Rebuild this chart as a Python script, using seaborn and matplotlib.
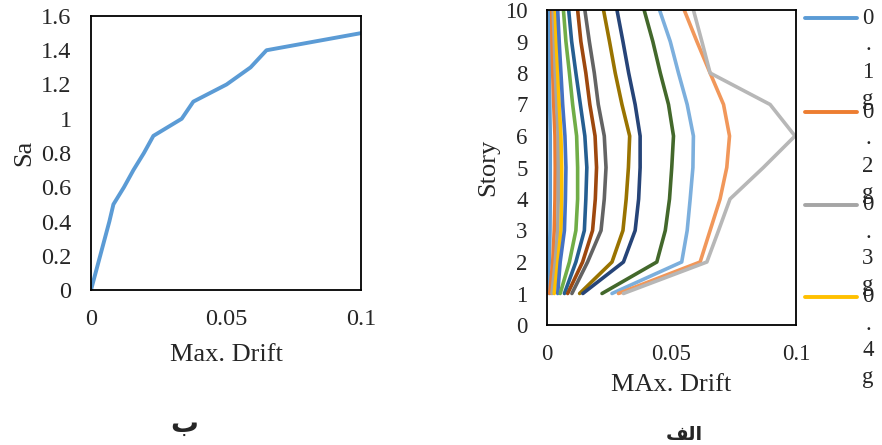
import numpy as np
import pandas as pd
import seaborn as sns
import matplotlib.pyplot as plt
from matplotlib.lines import Line2D

# left panel: Sa vs max drift
sa = [0, 0.1, 0.2, 0.3, 0.4, 0.5, 0.6, 0.7, 0.8, 0.9, 1.0, 1.1, 1.2, 1.3, 1.4, 1.5]
max_drift = [0, 0.0017, 0.0034, 0.0051, 0.0068, 0.0083, 0.0122, 0.0157, 0.0196,
             0.0231, 0.0336, 0.0379, 0.0502, 0.0591, 0.065, 0.1]

# right panel: drift profile per story, one series per intensity
stories = [1, 2, 3, 4, 5, 6, 7, 8, 9, 10]
levels = ['0.1g', '0.2g', '0.3g', '0.4g', '0.5g', '0.6g', '0.7g', '0.8g',
          '0.9g', '1.0g', '1.1g', '1.2g', '1.3g', '1.4g', '1.5g']
d01 = [0.0003, 0.0009, 0.0012, 0.0013, 0.0013, 0.0013, 0.0011, 0.0009, 0.0008, 0.0007]
d02 = [0.0011, 0.0023, 0.0029, 0.0032, 0.0033, 0.0032, 0.0027, 0.0023, 0.0020, 0.0019]
d03 = [0.0020, 0.0033, 0.0043, 0.0045, 0.0045, 0.0045, 0.0039, 0.0033, 0.0029, 0.0025]
d04 = [0.0029, 0.0043, 0.0056, 0.0059, 0.0059, 0.0056, 0.0049, 0.0043, 0.0037, 0.0033]
d05 = [0.0043, 0.0053, 0.0070, 0.0074, 0.0076, 0.0072, 0.0063, 0.0056, 0.0049, 0.0043]
d06 = [0.0053, 0.0090, 0.0116, 0.0123, 0.0123, 0.0119, 0.0103, 0.0090, 0.0076, 0.0066]
d07 = [0.0070, 0.0116, 0.0150, 0.0156, 0.0160, 0.0152, 0.0134, 0.0116, 0.0099, 0.0087]
d08 = [0.0083, 0.0143, 0.0183, 0.0194, 0.0199, 0.0193, 0.0172, 0.0156, 0.0136, 0.0123]
d09 = [0.0100, 0.0163, 0.0217, 0.0230, 0.0237, 0.0230, 0.0206, 0.0190, 0.0170, 0.0152]
d10 = [0.0131, 0.0261, 0.0305, 0.0318, 0.0327, 0.0332, 0.0301, 0.0274, 0.0251, 0.0227]
d11 = [0.0144, 0.0307, 0.0354, 0.0368, 0.0374, 0.0374, 0.0354, 0.0328, 0.0305, 0.0281]
d12 = [0.0221, 0.0441, 0.0475, 0.0492, 0.0501, 0.0508, 0.0488, 0.0455, 0.0425, 0.0390]
d13 = [0.0261, 0.0541, 0.0563, 0.0575, 0.0586, 0.0588, 0.0563, 0.0528, 0.0495, 0.0452]
d14 = [0.0287, 0.0615, 0.0655, 0.0695, 0.0722, 0.0733, 0.0709, 0.0655, 0.0602, 0.0551]
d15 = [0.0307, 0.0642, 0.0689, 0.0735, 0.0869, 0.0996, 0.0896, 0.0655, 0.0622, 0.0588]
profiles = [d01, d02, d03, d04, d05, d06, d07, d08, d09, d10, d11, d12, d13, d14, d15]

colors = ['#5B9BD5', '#ED7D31', '#A5A5A5', '#FFC000', '#4472C4', '#70AD47',
          '#255E91', '#9E480E', '#636363', '#997300', '#264478', '#43682B',
          '#7CAFDD', '#F1975A', '#B7B7B7']

rows = []
for lev, prof in zip(levels, profiles):
    for s, d in zip(stories, prof):
        rows.append((lev, s, d))
df = pd.DataFrame(rows, columns=['pga', 'story', 'drift'])

sns.set_style('white')
plt.rcParams['font.family'] = ['Liberation Serif', 'DejaVu Sans']

W, H = 882, 445
fig = plt.figure(figsize=(W / 100, H / 100), dpi=100)

def fmt(v, pos=None):
    return f"{v:g}"

# left chart
ax1 = fig.add_axes([91 / W, 1 - 290 / H, 270 / W, 274 / H])
sns.lineplot(x=max_drift, y=sa, sort=False, color='#5B9BD5', lw=2.8, ax=ax1)
ax1.set_xlim(0, 0.1)
ax1.set_ylim(0, 1.6)
ax1.set_xticks([0, 0.05, 0.1])
ax1.set_yticks(np.arange(0, 1.61, 0.2))
ax1.xaxis.set_major_formatter(plt.FuncFormatter(fmt))
ax1.yaxis.set_major_formatter(plt.FuncFormatter(fmt))
ax1.tick_params(length=0, labelsize=17.5)
ax1.tick_params(axis='y', pad=14)
ax1.tick_params(axis='x', pad=14)
ax1.set_xlabel('Max. Drift', fontsize=19, labelpad=10)
ax1.set_ylabel('Sa', fontsize=19, labelpad=4)

# right chart
ax2 = fig.add_axes([547 / W, 1 - 325 / H, 249 / W, 315 / H])
sns.lineplot(data=df, x='drift', y='story', hue='pga', palette=colors,
             sort=False, estimator=None, lw=2.6, legend=False, ax=ax2)
ax2.set_xlim(0, 0.1)
ax2.set_ylim(0, 10)
ax2.set_xticks([0, 0.05, 0.1])
ax2.set_yticks(range(0, 11))
ax2.xaxis.set_major_formatter(plt.FuncFormatter(fmt))
ax2.tick_params(length=0, labelsize=16.5)
ax2.tick_params(axis='y', pad=14)
ax2.tick_params(axis='x', pad=14)
ax2.set_xlabel('MAx. Drift', fontsize=19, labelpad=6)
ax2.set_ylabel('Story', fontsize=19, labelpad=4)

for ax in (ax1, ax2):
    for sp in ax.spines.values():
        sp.set_visible(True)
        sp.set_color('black')
        sp.set_linewidth(1.3)

# legend drawn by hand, labels wrapped one character per line (as in the source)
ys = [18, 112, 205, 297]
for i in range(4):
    y = 1 - ys[i] / H
    fig.add_artist(Line2D([805 / W, 857 / W], [y, y], color=colors[i], lw=2.8,
                          transform=fig.transFigure))
    for j, ch in enumerate(levels[i]):
        fig.text(868 / W, 1 - (ys[i] + j * 27) / H, ch, fontsize=16.5,
                 ha='center', va='center')

# panel captions (pre-shaped Arabic presentation forms)
fig.text(184 / W, 1 - 424 / H, '\uFE8F', fontsize=20, fontweight='bold',
         family=['DejaVu Sans'], ha='center', va='center')
fig.text(684 / W, 1 - 434 / H, '\uFED2\uFEDF\uFE8D', fontsize=14, fontweight='bold',
         family=['DejaVu Sans'], ha='center', va='center')

fig.savefig('out.png', dpi=100)
